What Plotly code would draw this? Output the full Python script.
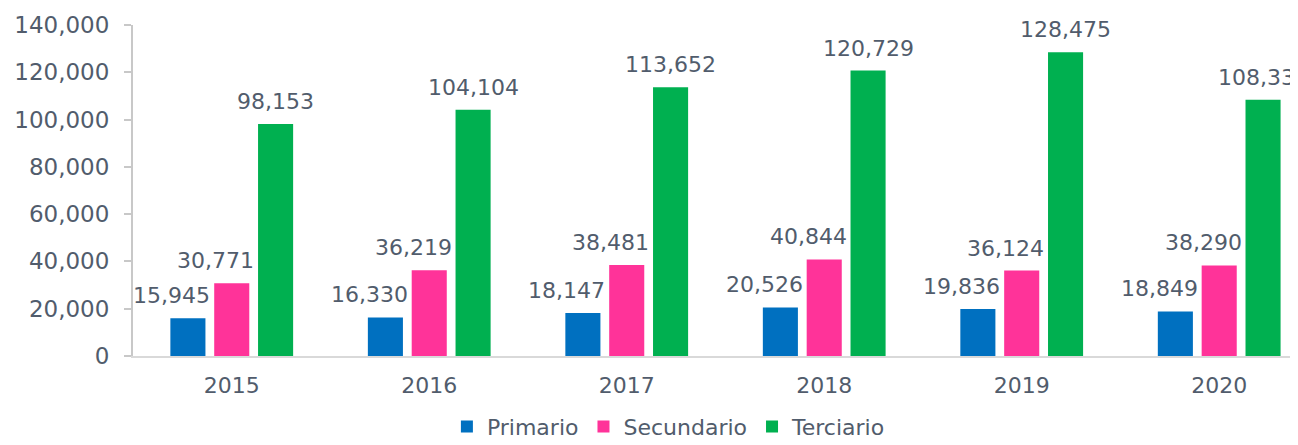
import plotly.graph_objects as go

years = ["2015", "2016", "2017", "2018", "2019", "2020"]
primario = [15945, 16330, 18147, 20526, 19836, 18849]
secundario = [30771, 36219, 38481, 40844, 36124, 38290]
terciario = [98153, 104104, 113652, 120729, 128475, 108338]
y_ticks = [0, 20000, 40000, 60000, 80000, 100000, 120000, 140000]

series = [
    ("Primario", primario, "#0070C0"),
    ("Secundario", secundario, "#FF3399"),
    ("Terciario", terciario, "#00B050"),
]

TXT = "#515C6C"
FONT = "DejaVu Sans"

fig = go.Figure()
for name, vals, col in series:
    fig.add_trace(go.Bar(
        name=name, x=years, y=vals,
        marker=dict(color=col, line=dict(width=0)),
    ))

# data labels (offsets mimic the original placement)
offsets = {"Primario": -60, "Secundario": -16, "Terciario": 44}
for name, vals, col in series:
    for i, v in enumerate(vals):
        fig.add_annotation(
            x=i, y=v, xref="x", yref="y", text=f"{v:,}", showarrow=False,
            xanchor="center", yanchor="bottom",
            xshift=offsets[name], yshift=8,
            font=dict(family=FONT, size=22, color=TXT),
        )

fig.update_layout(
    width=1290, height=437,
    margin=dict(l=125, r=0, t=17, b=89, autoexpand=False),
    paper_bgcolor="white", plot_bgcolor="white",
    barmode="group", bargap=0.334, bargroupgap=0.2,
    font=dict(family=FONT, size=22, color=TXT),
    showlegend=True,
    legend=dict(
        orientation="h", x=0.46, xanchor="center", y=-0.277, yanchor="bottom",
        font=dict(family=FONT, size=22, color=TXT),
        itemwidth=30, tracegroupgap=0,
    ),
)
fig.update_xaxes(
    type="category", range=[-0.5, 5.399], automargin=False,
    showline=True, linecolor="#D9D9D9", linewidth=2,
    ticks="", showgrid=False, ticklabelstandoff=9,
    tickfont=dict(family=FONT, size=22, color=TXT),
)
fig.update_yaxes(
    range=[0, 140000], tickvals=y_ticks, tickformat=",", automargin=False,
    showline=True, linecolor="#C8C8C8", linewidth=2,
    ticks="outside", ticklen=7, tickcolor="#C8C8C8", tickwidth=2,
    showgrid=False, zeroline=False, ticklabelstandoff=10,
    tickfont=dict(family=FONT, size=23, color=TXT),
)

fig.write_html("out.html")
